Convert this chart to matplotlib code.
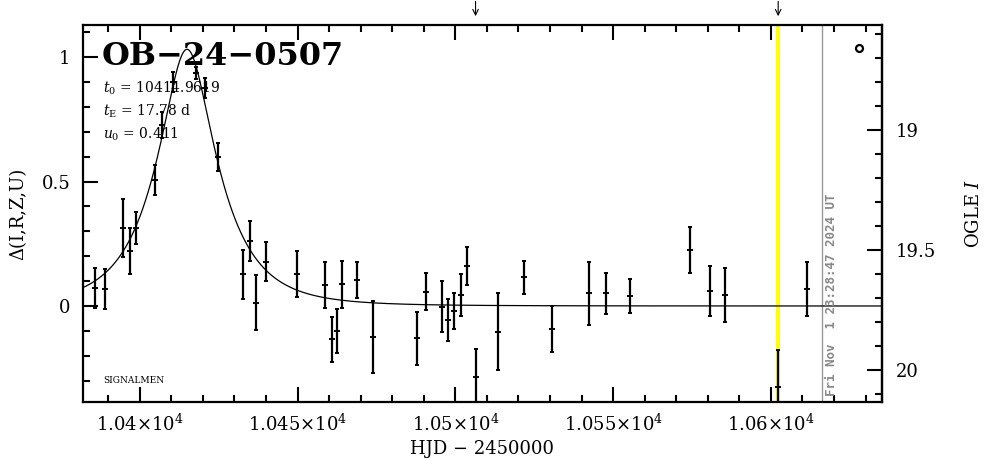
import numpy as np
import matplotlib
matplotlib.use("Agg")
import matplotlib.pyplot as plt
from matplotlib.ticker import MultipleLocator, FixedLocator

plt.rcParams['font.family'] = ['DejaVu Serif']
plt.rcParams['mathtext.fontset'] = 'dejavuserif'

# ---- data ----
hjd = [10385.96, 10388.91, 10394.71, 10396.83, 10398.95, 10404.85, 10406.88,
       10410.55, 10417.75, 10420.60, 10424.82, 10432.74, 10434.87, 10436.77,
       10439.84, 10449.86, 10458.64, 10460.76, 10462.54, 10463.93, 10468.87,
       10473.95, 10487.70, 10490.65, 10495.72, 10497.72, 10499.62, 10501.84,
       10503.55, 10506.40, 10513.57, 10521.62, 10530.59, 10542.41, 10547.61,
       10555.40, 10574.42, 10580.57, 10585.52, 10602.30, 10611.41]
delta = [0.072, 0.068, 0.314, 0.222, 0.313, 0.506, 0.727,
         0.901, 0.936, 0.874, 0.598, 0.127, 0.261, 0.013,
         0.178, 0.129, 0.084, -0.134, -0.100, 0.087, 0.104,
         -0.123, -0.130, 0.057, -0.003, -0.056, -0.020, 0.044,
         0.161, -0.287, -0.103, 0.115, -0.092, 0.051, 0.051,
         0.040, 0.225, 0.060, 0.044, -0.324, 0.067]
err = [0.080, 0.080, 0.117, 0.092, 0.065, 0.062, 0.053,
       0.040, 0.025, 0.040, 0.057, 0.098, 0.079, 0.111,
       0.078, 0.092, 0.094, 0.090, 0.088, 0.094, 0.072,
       0.145, 0.107, 0.075, 0.102, 0.085, 0.072, 0.084,
       0.076, 0.113, 0.155, 0.066, 0.093, 0.126, 0.082,
       0.068, 0.094, 0.099, 0.109, 0.147, 0.108]

# model parameters printed on the chart
t0 = 10414.9619
tE = 17.78
u0 = 0.411

event_name = "OB\u221224\u22120507"
param_labels = [r"$t_0$ = 10414.9619", r"$t_{\rm E}$ = 17.78 d", r"$u_0$ = 0.411"]
timestamp = "Fri Nov  1 23:28:47 2024 UT"

yellow_hjd = 10602.3
now_hjd = 10616.1
arrow_hjd = [10506.4, 10602.3]

xlim = (10382.0, 10635.2)
ylim = (-0.3855, 1.1285)
xticks_major = [10400, 10450, 10500, 10550, 10600]
xticklabels = ["1.04", "1.045", "1.05", "1.055", "1.06"]
yticks_left = [0, 0.5, 1]
yticks_right = [19, 19.5, 20]

# ---- figure ----
fig = plt.figure(figsize=(9.86, 4.59), dpi=100)
ax = fig.add_axes([83/986, 1-402/459, 799/986, 377/459])

# model curve (Paczynski, magnitude difference)
tt = np.linspace(xlim[0], xlim[1], 2000)
uu = np.sqrt(u0**2 + ((tt - t0)/tE)**2)
AA = (uu**2 + 2)/(uu*np.sqrt(uu**2 + 4))
ax.plot(tt, 2.5*np.log10(AA), color='black', lw=0.9, zorder=3)

ax.axvline(yellow_hjd, color='#ffff00', lw=2.8, zorder=1)
ax.axvline(now_hjd, color='#999999', lw=1.0, zorder=1)

ax.errorbar(hjd, delta, yerr=err, fmt='_', color='black', ms=4, mew=1.4,
            elinewidth=1.6, capsize=1.5, capthick=1.4, zorder=4)

ax.set_xlim(*xlim)
ax.set_ylim(*ylim)

for s in ax.spines.values():
    s.set_linewidth(1.6)

ax.xaxis.set_major_locator(FixedLocator(xticks_major))
ax.xaxis.set_minor_locator(MultipleLocator(10))
ax.set_xticklabels([l + r"$\times$10$^4$" for l in xticklabels])
ax.yaxis.set_major_locator(FixedLocator(yticks_left))
ax.yaxis.set_minor_locator(MultipleLocator(0.1))
ax.set_yticklabels(["0", "0.5", "1"])
ax.tick_params(which='both', direction='in', top=True, right=False, width=1.5,
               labelsize=13)
ax.tick_params(which='major', length=10.5)
ax.tick_params(which='minor', length=5)
ax.tick_params(axis='x', pad=8)
ax.tick_params(axis='y', pad=9)

# right magnitude axis
def d2m(d):
    return 19.7333 - 1.0375*np.asarray(d)
def m2d(m):
    return (19.7333 - np.asarray(m))/1.0375
sec = ax.secondary_yaxis('right', functions=(d2m, m2d))
sec.yaxis.set_major_locator(FixedLocator(yticks_right))
sec.yaxis.set_minor_locator(MultipleLocator(0.1))
sec.set_yticklabels(["19", "19.5", "20"])
sec.tick_params(which='both', direction='in', width=1.5, labelsize=13, pad=10)
sec.tick_params(which='major', length=10.5)
sec.tick_params(which='minor', length=5)
sec.spines['right'].set_linewidth(1.6)
sec.set_ylabel(r"OGLE $I$", fontsize=13, labelpad=21)

ax.set_xlabel("HJD \u2212 2450000", fontsize=13, labelpad=4)
ax.set_ylabel("\u0394(I,R,Z,U)", fontsize=13, labelpad=10)

# texts
ax.text(0.023, 0.894, event_name, transform=ax.transAxes, fontsize=23,
        fontweight='bold', va='baseline', ha='left', zorder=5)
for i, lab in enumerate(param_labels):
    ax.text(0.025, [0.8196, 0.760, 0.700][i], lab, transform=ax.transAxes,
            fontsize=10, va='baseline', ha='left', zorder=5)
ax.text(0.025, 0.050, "SIGNALMEN", transform=ax.transAxes, fontsize=6.5,
        va='baseline', ha='left')
ax.plot([0.971], [0.94], marker='o', ms=5, mfc='none', mec='black', mew=1.6,
        transform=ax.transAxes, clip_on=False)
ax.text(now_hjd + 3.2, ylim[0] + 0.016*(ylim[1]-ylim[0]), timestamp,
        rotation=90, color='#888888', fontsize=9, fontweight='bold',
        family='DejaVu Sans Mono', ha='center', va='bottom')

# arrows above the plot
for a in arrow_hjd:
    ax.annotate("", xy=(a, 1.016), xycoords=('data', 'axes fraction'),
                xytext=(a, 1.07), textcoords=('data', 'axes fraction'),
                arrowprops=dict(arrowstyle='->', color='black', lw=0.8,
                                mutation_scale=10), annotation_clip=False)

fig.savefig("out.png", dpi=100)
